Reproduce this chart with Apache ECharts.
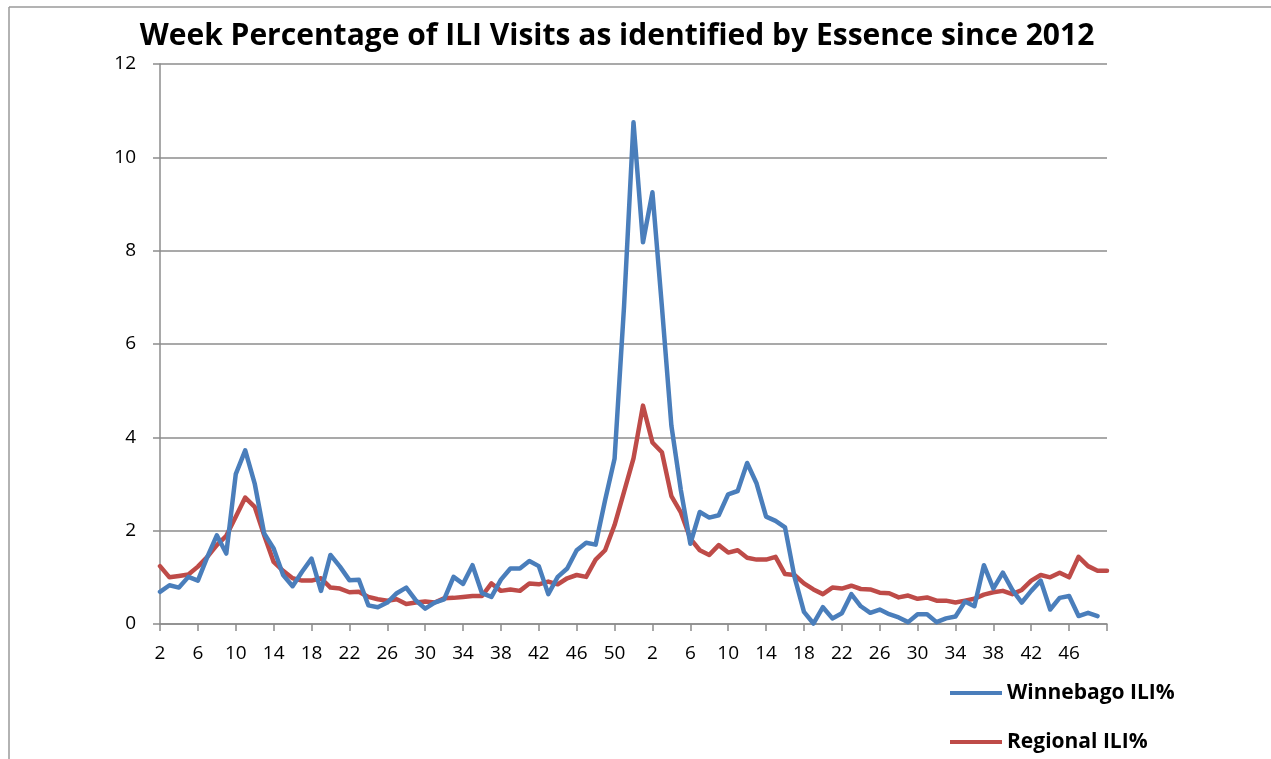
<!DOCTYPE html>
<html>
<head>
<meta charset="utf-8">
<script src="https://cdn.jsdelivr.net/npm/echarts@6/dist/echarts.min.js"></script>
<style>
  html, body { margin: 0; padding: 0; background: #fff; }
  #chart { width: 1271px; height: 759px; }
</style>
</head>
<body>
<div id="chart"></div>
<script>
// Week labels: 2012 weeks 2-52, then 2013 weeks 1-50
const weeks2012 = [2,3,4,5,6,7,8,9,10,11,12,13,14,15,16,17,18,19,20,21,22,23,24,25,26,27,28,29,30,31,32,33,34,35,36,37,38,39,40,41,42,43,44,45,46,47,48,49,50,51,52];
const weeks2013 = [1,2,3,4,5,6,7,8,9,10,11,12,13,14,15,16,17,18,19,20,21,22,23,24,25,26,27,28,29,30,31,32,33,34,35,36,37,38,39,40,41,42,43,44,45,46,47,48,49,50];
const categories = weeks2012.concat(weeks2013).map(String);

const winnebago = [
  0.69,0.83,0.78,1.01,0.93,1.44,1.90,1.51,3.21,3.72,
  3.01,1.94,1.62,1.05,0.81,1.12,1.40,0.71,1.48,1.23,
  0.94,0.95,0.40,0.36,0.46,0.66,0.78,0.51,0.33,0.46,
  0.53,1.01,0.86,1.26,0.66,0.58,0.95,1.19,1.19,1.35,
  1.24,0.64,1.01,1.19,1.58,1.74,1.70,2.65,3.54,6.80,
  10.75,8.18,9.25,6.80,4.25,2.87,1.72,2.40,2.28,2.33,
  2.78,2.85,3.45,3.01,2.30,2.21,2.07,1.01,0.26,0.01,
  0.36,0.12,0.23,0.64,0.38,0.24,0.31,0.21,0.14,0.04,
  0.21,0.21,0.04,0.12,0.16,0.48,0.38,1.26,0.76,1.10,
  0.73,0.46,0.71,0.93,0.31,0.56,0.60,0.17,0.24,0.17,
  null
];

const regional = [
  1.24,1.00,1.03,1.06,1.23,1.44,1.69,1.89,2.30,2.71,
  2.51,1.90,1.33,1.14,0.98,0.93,0.93,0.98,0.78,0.76,
  0.68,0.69,0.58,0.53,0.50,0.53,0.43,0.46,0.48,0.46,
  0.55,0.56,0.58,0.60,0.60,0.87,0.71,0.74,0.71,0.87,
  0.85,0.91,0.85,0.98,1.05,1.01,1.38,1.58,2.12,2.83,
  3.55,4.68,3.89,3.68,2.74,2.39,1.83,1.58,1.48,1.69,
  1.53,1.58,1.42,1.38,1.38,1.44,1.07,1.05,0.87,0.74,
  0.64,0.78,0.76,0.82,0.75,0.74,0.67,0.66,0.57,0.61,
  0.54,0.57,0.50,0.50,0.46,0.50,0.54,0.63,0.68,0.71,
  0.64,0.73,0.93,1.05,1.00,1.10,1.00,1.44,1.24,1.14,
  1.14
];

const titleText = 'Week Percentage of ILI Visits as identified by Essence since 2012';
const seriesNames = ['Winnebago ILI%', 'Regional ILI%'];

const chart = echarts.init(document.getElementById('chart'), null, { renderer: 'canvas' });
const FONT = '"Open Sans", Lato, sans-serif';
const AXIS_COLOR = '#8c8c8c';

function legendAt(name, top) {
  return {
    orient: 'vertical',
    left: 950,
    top: top,
    padding: 0,
    itemWidth: 52,
    itemHeight: 4,
    icon: 'rect',
    data: [name],
    textStyle: { fontFamily: FONT, fontWeight: 'bold', fontSize: 21, color: '#000', lineHeight: 26 }
  };
}

chart.setOption({
  animation: false,
  backgroundColor: '#ffffff',
  title: {
    text: titleText,
    left: 612,
    top: 16,
    textAlign: 'center',
    textStyle: { fontFamily: FONT, fontWeight: 'bold', fontSize: 30, color: '#000' }
  },
  graphic: [
    { type: 'line', shape: { x1: 9, y1: 7, x2: 9, y2: 759 }, style: { stroke: '#9a9a9a', lineWidth: 1.5 } },
    { type: 'line', shape: { x1: 9, y1: 7, x2: 1271, y2: 7 }, style: { stroke: '#9a9a9a', lineWidth: 1.5 } }
  ],
  legend: [legendAt(seriesNames[0], 680), legendAt(seriesNames[1], 729)],
  grid: { left: 160, right: 164, top: 64, bottom: 135, containLabel: false },
  xAxis: {
    type: 'category',
    data: categories,
    boundaryGap: false,
    axisLine: { lineStyle: { color: AXIS_COLOR, width: 1.5 } },
    axisTick: { show: true, interval: 3, length: 7, lineStyle: { color: AXIS_COLOR, width: 1.5 } },
    axisLabel: {
      interval: 3,
      margin: 20,
      fontFamily: FONT,
      fontSize: 19,
      color: '#000',
      formatter: function (v, idx) { return idx === categories.length - 1 ? '' : v; }
    },
    splitLine: { show: false }
  },
  yAxis: {
    type: 'value',
    min: 0,
    max: 12,
    interval: 2,
    axisLine: { show: true, lineStyle: { color: AXIS_COLOR, width: 1.5 } },
    axisTick: { show: true, length: 7, lineStyle: { color: AXIS_COLOR, width: 1.5 } },
    axisLabel: { margin: 24, fontFamily: FONT, fontSize: 19, color: '#000' },
    splitLine: { show: true, lineStyle: { color: AXIS_COLOR, width: 1.5 } }
  },
  series: [
    {
      name: seriesNames[0],
      type: 'line',
      data: winnebago,
      symbol: 'none',
      connectNulls: false,
      color: '#4a7ebb',
      lineStyle: { color: '#4a7ebb', width: 4.5, join: 'round', cap: 'round' },
      z: 3
    },
    {
      name: seriesNames[1],
      type: 'line',
      data: regional,
      symbol: 'none',
      color: '#be4b48',
      lineStyle: { color: '#be4b48', width: 4.5, join: 'round', cap: 'round' },
      z: 2
    }
  ]
});
</script>
</body>
</html>
